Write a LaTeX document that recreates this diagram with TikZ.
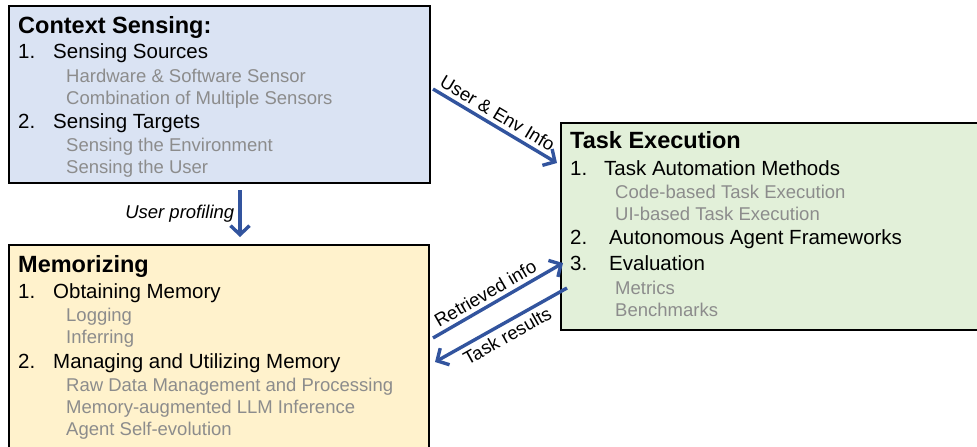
\documentclass[tikz,border=0pt]{standalone}
\usepackage{fontspec}
\setmainfont{Liberation Sans}
\usetikzlibrary{arrows.meta}

\definecolor{senseblue}{RGB}{218,227,243}
\definecolor{memyellow}{RGB}{255,242,204}
\definecolor{taskgreen}{RGB}{226,240,217}
\definecolor{flowblue}{RGB}{50,84,158}
\definecolor{subgray}{RGB}{140,140,140}

\tikzset{
  box/.style={draw=black, line width=1.6pt, anchor=north west, inner sep=0pt},
  title/.style={anchor=base west, inner sep=0pt, font=\fontsize{23.5}{28}\selectfont\bfseries},
  item/.style={anchor=base west, inner sep=0pt, font=\fontsize{20.5}{24}\selectfont},
  sub/.style={anchor=base west, inner sep=0pt, text=subgray, font=\fontsize{18.5}{22}\selectfont},
  flow/.style={draw=flowblue, line width=3.4pt, -{Straight Barb[length=9pt,width=19pt,line width=3.4pt]}},
  flowlabel/.style={font=\fontsize{18.5}{22}\selectfont, inner sep=4pt}
}

\begin{document}
\begin{tikzpicture}[x=1pt, y=-1pt]
    \useasboundingbox (0,0) rectangle (977,447);

    % the three boxes
    \node[box, fill=senseblue, minimum width=421pt, minimum height=177pt] (sensing) at (8,5) {};
    \node[box, fill=memyellow, minimum width=420pt, minimum height=240pt] (memory) at (8,244) {};
    \node[box, fill=taskgreen, minimum width=440pt, minimum height=207pt] (task) at (560,122) {};

    % Context Sensing
    \node[title] (cs-title) at (18,33) {Context Sensing:};
    \node[item] (cs-n1) at (18,58) {1.};
    \node[item] (cs-i1) at (53,58) {Sensing Sources};
    \node[sub] (cs-s1) at (66,82) {Hardware \& Software Sensor};
    \node[sub] (cs-s2) at (66,104) {Combination of Multiple Sensors};
    \node[item] (cs-n2) at (18,128) {2.};
    \node[item] (cs-i2) at (53,128) {Sensing Targets};
    \node[sub] (cs-s3) at (66,151) {Sensing the Environment};
    \node[sub] (cs-s4) at (66,173) {Sensing the User};

    % Memorizing
    \node[title] (mem-title) at (18,272) {Memorizing};
    \node[item] (mem-n1) at (18,298) {1.};
    \node[item] (mem-i1) at (53,298) {Obtaining Memory};
    \node[sub] (mem-s1) at (66,321) {Logging};
    \node[sub] (mem-s2) at (66,343) {Inferring};
    \node[item] (mem-n2) at (18,368) {2.};
    \node[item] (mem-i2) at (53,368) {Managing and Utilizing Memory};
    \node[sub] (mem-s3) at (66,391) {Raw Data Management and Processing};
    \node[sub] (mem-s4) at (66,413) {Memory-augmented LLM Inference};
    \node[sub] (mem-s5) at (66,435) {Agent Self-evolution};

    % Task Execution
    \node[title] (te-title) at (570,148) {Task Execution};
    \node[item] (te-n1) at (570,175) {1.};
    \node[item] (te-i1) at (604,175) {Task Automation Methods};
    \node[sub] (te-s1) at (615,198) {Code-based Task Execution};
    \node[sub] (te-s2) at (615,220) {UI-based Task Execution};
    \node[item] (te-n2) at (570,244) {2.};
    \node[item] (te-i2) at (609,244) {Autonomous Agent Frameworks};
    \node[item] (te-n3) at (570,270) {3.};
    \node[item] (te-i3) at (609,270) {Evaluation};
    \node[sub] (te-s3) at (615,294) {Metrics};
    \node[sub] (te-s4) at (615,316) {Benchmarks};

    % arrow ends
    \coordinate (env-from) at (433,89);
    \coordinate (env-to) at (557,163);
    \coordinate (prof-from) at (240,190);
    \coordinate (prof-to) at (240,237);
    \coordinate (ret-from) at (433,338);
    \coordinate (ret-to) at (563,263);
    \coordinate (res-from) at (567,288);
    \coordinate (res-to) at (435,362);

    % connectors
    \draw[flow] (env-from) -- (env-to) node[flowlabel, pos=0.47, above, sloped] {User \& Env Info};
    \draw[flow] (prof-from) -- (prof-to) node[flowlabel, midway, left, font=\fontsize{18.5}{22}\selectfont\itshape] {User profiling};
    \draw[flow] (ret-from) -- (ret-to) node[flowlabel, pos=0.45, above, sloped] {Retrieved info};
    \draw[flow] (res-from) -- (res-to) node[flowlabel, pos=0.5, below, sloped] {Task results};
\end{tikzpicture}
\end{document}
